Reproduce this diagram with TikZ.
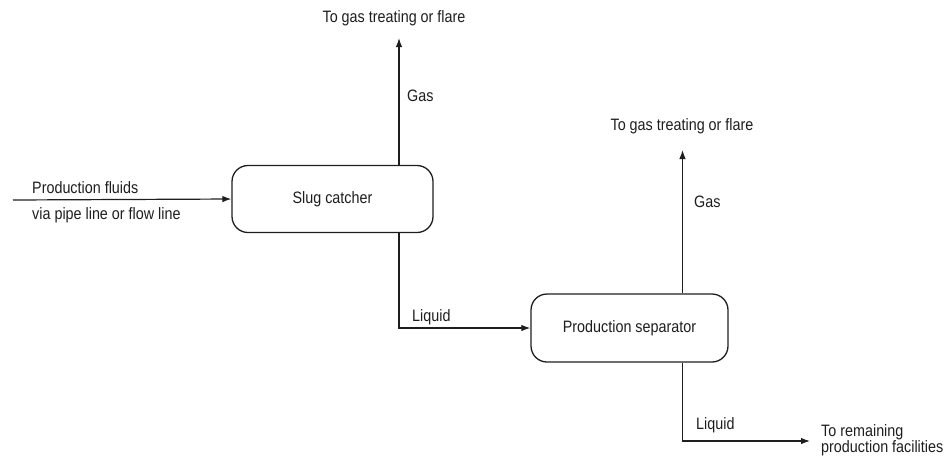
\documentclass[tikz,border=0pt]{standalone}
\usepackage{fontspec}
\setmainfont{Liberation Sans}[FakeStretch=0.87]
\usetikzlibrary{arrows.meta}
\definecolor{ink}{RGB}{30,30,30}
\begin{document}
\begin{tikzpicture}[x=1pt,y=-1pt,
  txt/.style={inner sep=0pt,text=ink,font=\fontsize{16.5}{17}\selectfont},
  vessel/.style={draw=ink,line width=1.3pt,rounded corners=16pt,minimum width=201pt,minimum height=67pt,inner sep=0pt,text=ink,font=\fontsize{16.5}{17}\selectfont},
  flow/.style={draw=ink,line width=1.2pt,-{Latex[length=9pt,width=6.5pt]}}]
\useasboundingbox (0,0) rectangle (949,456);
% vessels
\node[vessel] (sc) at (332.5,199) {Slug catcher};
\node[vessel,minimum width=197pt,minimum height=68pt] (ps) at (629.5,328) {Production separator};
% free ends
\coordinate (in) at (13,200);
\coordinate (g1) at (399,38);
\coordinate (g2) at (682.5,150);
\coordinate (l2) at (810,441);
% labels
\node[txt] (t1) at (394,18) {To gas treating or flare};
\node[txt,anchor=west] (gas1) at (407,96) {Gas};
\node[txt,anchor=west] (pf) at (32,188) {Production fluids};
\node[txt,anchor=west] (vp) at (32,215) {via pipe line or flow line};
\node[txt,anchor=west] (liq1) at (412,317) {Liquid};
\node[txt] (t2) at (682,126) {To gas treating or flare};
\node[txt,anchor=west] (gas2) at (694,202) {Gas};
\node[txt,anchor=west] (liq2) at (696,425) {Liquid};
\node[txt,anchor=west,align=left,font=\fontsize{16.5}{16}\selectfont] (rem) at (821,440) {To remaining\\production facilities};
% connectors
\draw[flow] (in) -- (sc.west);
\draw[flow] (sc.north -| g1) -- (g1);
\draw[flow] (sc.south -| g1) |- (ps.west);
\draw[flow] (ps.north -| g2) -- (g2);
\draw[flow] (ps.south -| g2) |- (l2);
\end{tikzpicture}
\end{document}
